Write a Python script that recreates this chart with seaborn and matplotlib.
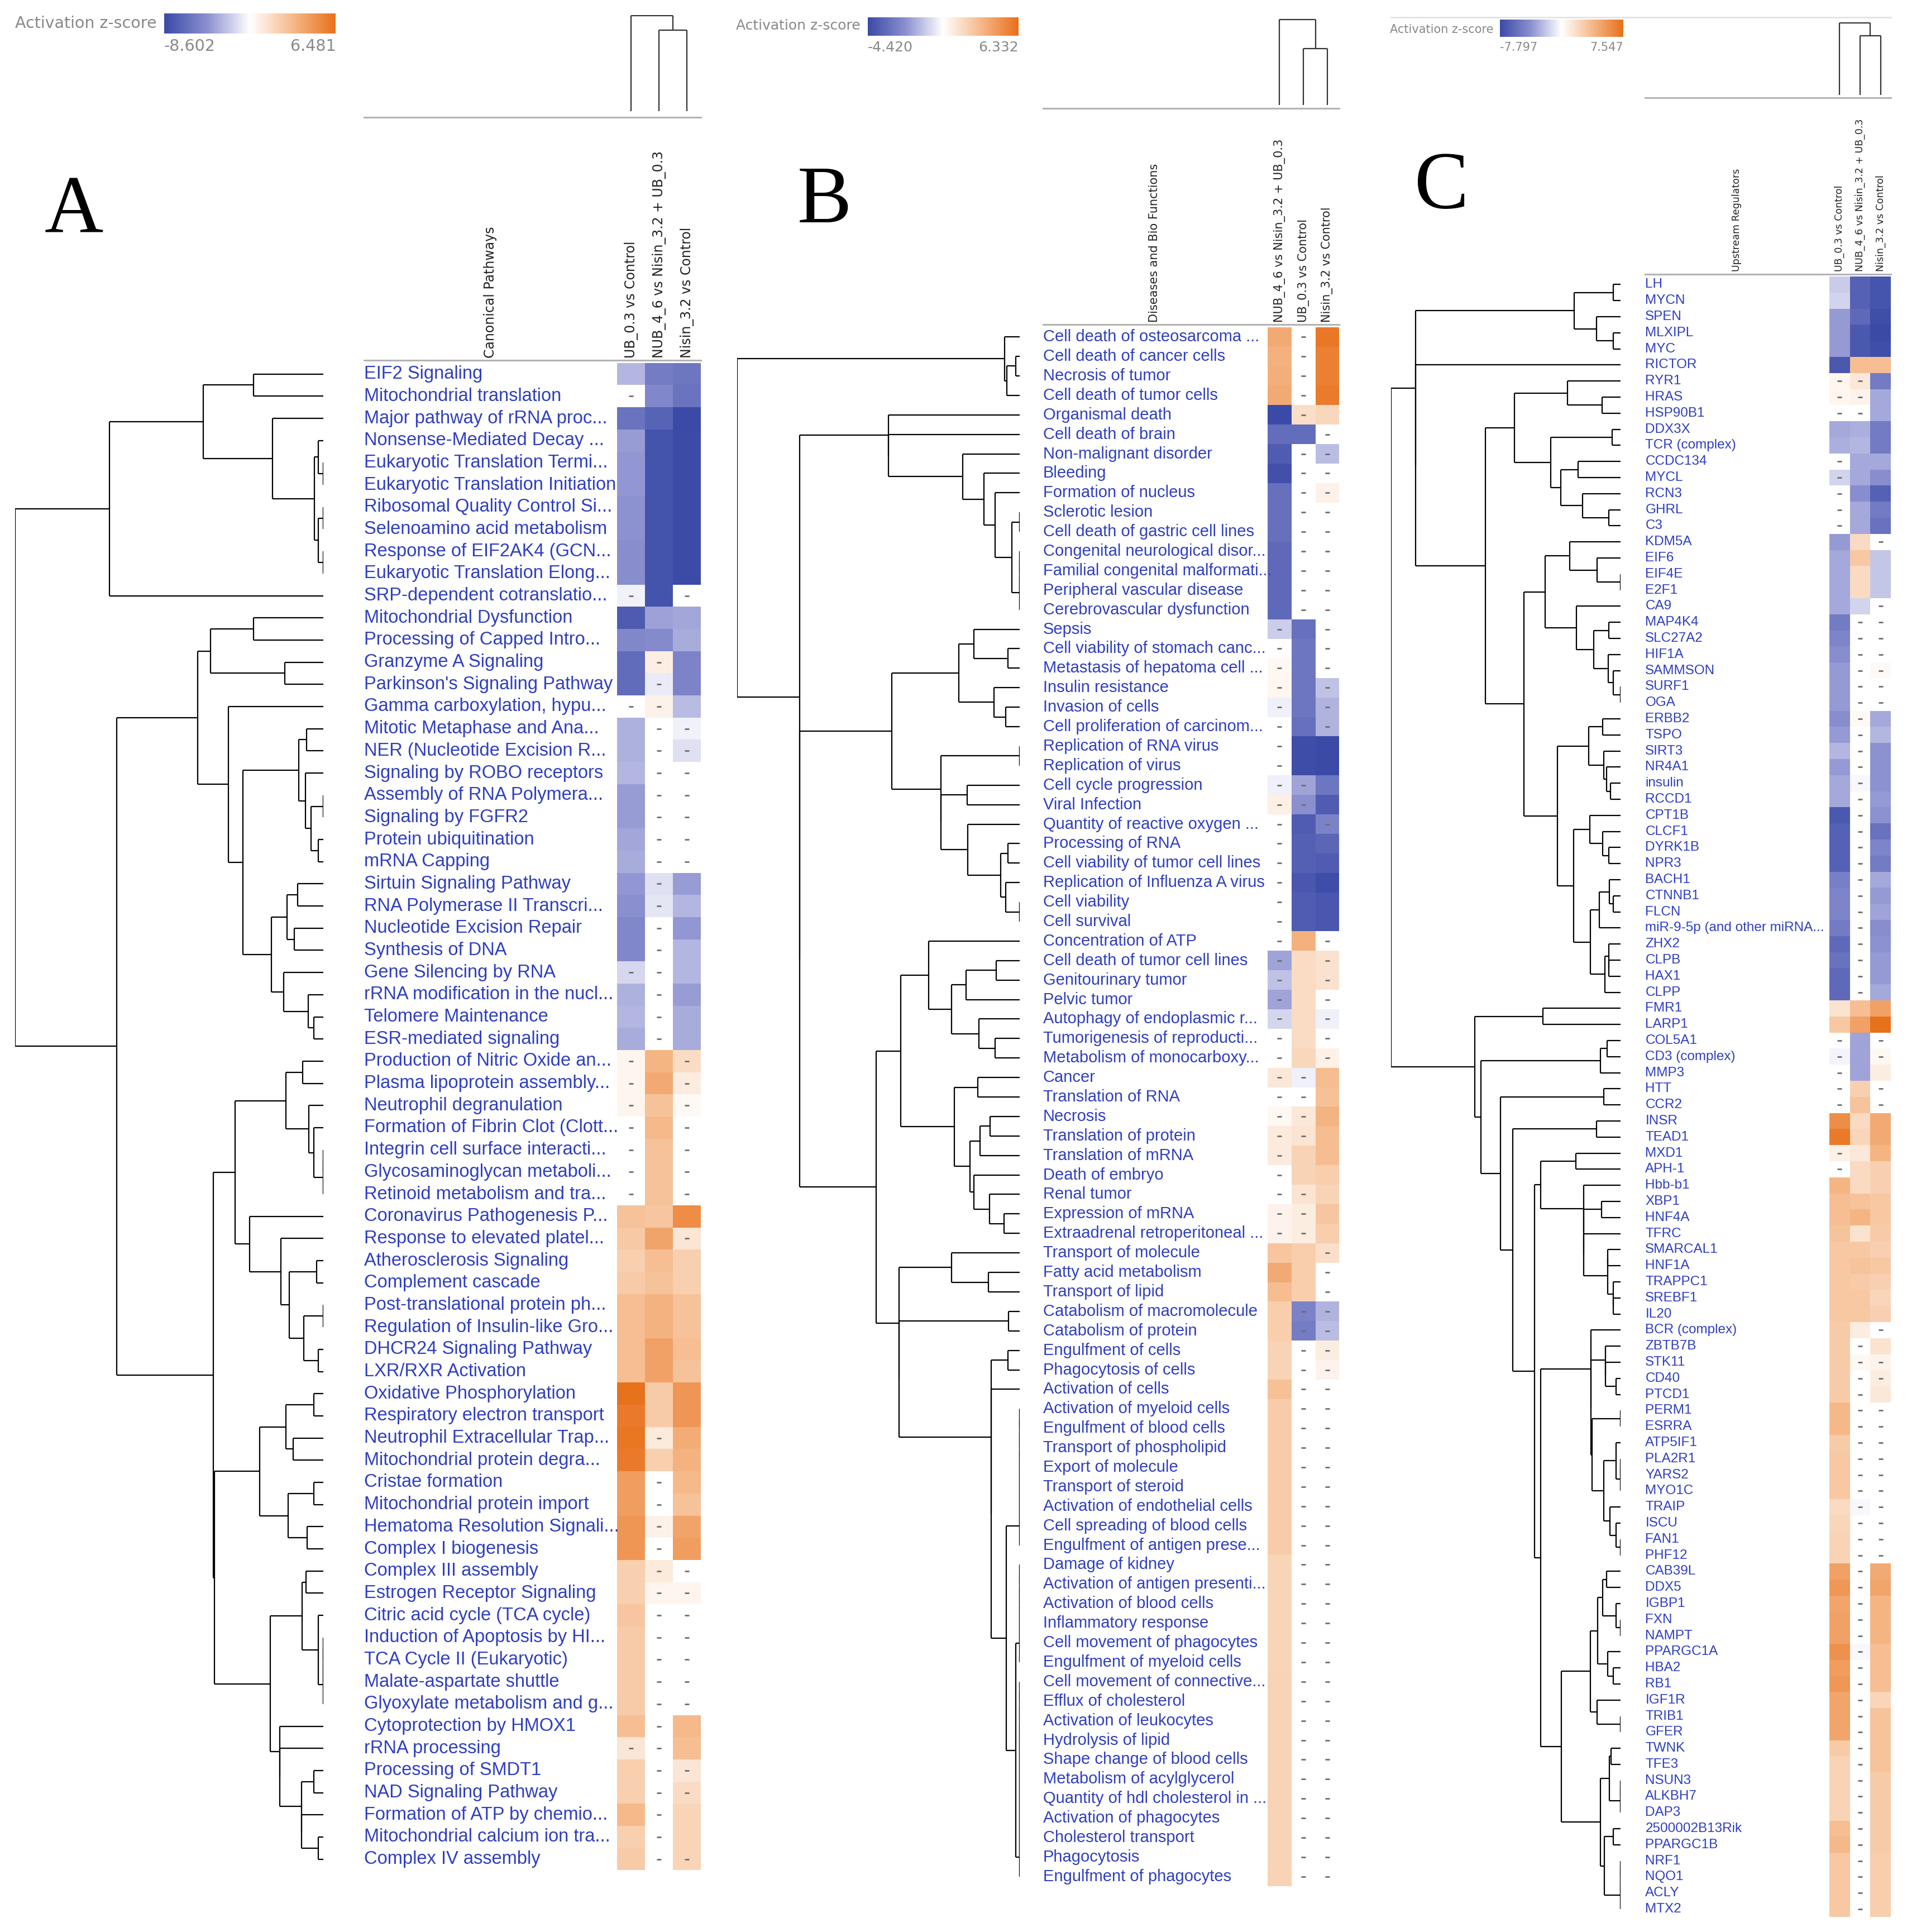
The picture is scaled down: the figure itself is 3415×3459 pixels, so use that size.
import numpy as np
import pandas as pd
import seaborn as sns
import matplotlib.pyplot as plt
from matplotlib.colors import LinearSegmentedColormap, TwoSlopeNorm
from matplotlib.cm import ScalarMappable
from matplotlib.lines import Line2D

nan = np.nan

# ---------------- panel A : canonical pathways ----------------
a_cols = ["UB_0.3 vs Control", "NUB_4_6 vs Nisin_3.2 + UB_0.3", "Nisin_3.2 vs Control"]
a_range = (-8.602, 6.481)
a_labels = [
    "EIF2 Signaling", "Mitochondrial translation", "Major pathway of rRNA proc...",
    "Nonsense-Mediated Decay ...", "Eukaryotic Translation Termi...", "Eukaryotic Translation Initiation",
    "Ribosomal Quality Control Si...", "Selenoamino acid metabolism", "Response of EIF2AK4 (GCN...",
    "Eukaryotic Translation Elong...", "SRP-dependent cotranslatio...", "Mitochondrial Dysfunction",
    "Processing of Capped Intro...", "Granzyme A Signaling", "Parkinson's Signaling Pathway",
    "Gamma carboxylation, hypu...", "Mitotic Metaphase and Ana...", "NER (Nucleotide Excision R...",
    "Signaling by ROBO receptors", "Assembly of RNA Polymera...", "Signaling by FGFR2",
    "Protein ubiquitination", "mRNA Capping", "Sirtuin Signaling Pathway",
    "RNA Polymerase II Transcri...", "Nucleotide Excision Repair", "Synthesis of DNA",
    "Gene Silencing by RNA", "rRNA modification in the nucl...", "Telomere Maintenance",
    "ESR-mediated signaling", "Production of Nitric Oxide an...", "Plasma lipoprotein assembly...",
    "Neutrophil degranulation", "Formation of Fibrin Clot (Clott...", "Integrin cell surface interacti...",
    "Glycosaminoglycan metaboli...", "Retinoid metabolism and tra...", "Coronavirus Pathogenesis P...",
    "Response to elevated platel...", "Atherosclerosis Signaling", "Complement cascade",
    "Post-translational protein ph...", "Regulation of Insulin-like Gro...", "DHCR24 Signaling Pathway",
    "LXR/RXR Activation", "Oxidative Phosphorylation", "Respiratory electron transport",
    "Neutrophil Extracellular Trap...", "Mitochondrial protein degra...", "Cristae formation",
    "Mitochondrial protein import", "Hematoma Resolution Signali...", "Complex I biogenesis",
    "Complex III assembly", "Estrogen Receptor Signaling", "Citric acid cycle (TCA cycle)",
    "Induction of Apoptosis by HI...", "TCA Cycle II (Eukaryotic)", "Malate-aspartate shuttle",
    "Glyoxylate metabolism and g...", "Cytoprotection by HMOX1", "rRNA processing",
    "Processing of SMDT1", "NAD Signaling Pathway", "Formation of ATP by chemio...",
    "Mitochondrial calcium ion tra...", "Complex IV assembly",
]
a_values = [
    (-2.8, -5.5, -5.8), (nan, -4.8, -6.0), (-6.0, -7.0, -8.6), (-3.8, -8.0, -8.5),
    (-4.0, -8.0, -8.5), (-4.0, -8.0, -8.5), (-4.2, -8.0, -8.5), (-4.2, -8.0, -8.5),
    (-4.4, -8.0, -8.5), (-4.4, -8.0, -8.5), (-0.5, -8.0, nan), (-7.5, -3.6, -3.4),
    (-4.8, -4.6, -3.2), (-6.5, 0.8, -5.0), (-6.5, -0.8, -5.0), (nan, 0.6, -2.6),
    (-3.0, nan, -0.5), (-3.0, nan, -1.2), (-2.8, nan, nan), (-3.8, nan, nan),
    (-3.8, nan, nan), (-3.4, nan, nan), (-3.2, nan, nan), (-4.0, -1.2, -3.8),
    (-4.3, -1.0, -2.8), (-4.8, nan, -4.0), (-4.8, nan, -2.8), (-1.5, nan, -2.8),
    (-3.0, nan, -3.8), (-2.8, nan, -3.2), (-3.2, nan, -3.2), (0.5, 3.4, 1.6),
    (0.5, 3.9, 0.9), (0.5, 2.8, 0.3), (nan, 3.2, nan), (nan, 2.8, nan),
    (nan, 2.8, nan), (nan, 2.8, nan), (2.8, 2.6, 5.2), (2.5, 4.2, 1.2),
    (2.2, 3.0, 2.2), (2.4, 2.8, 2.2), (3.0, 3.5, 2.8), (3.0, 3.5, 2.8),
    (3.0, 4.3, 3.0), (3.0, 4.3, 2.8), (6.4, 2.4, 4.8), (6.0, 2.4, 4.8),
    (6.2, 1.0, 3.8), (6.0, 2.2, 3.5), (4.5, nan, 3.2), (4.5, nan, 2.8),
    (4.8, 0.6, 4.2), (4.8, nan, 4.5), (2.2, 1.0, nan), (2.2, 0.5, 0.5),
    (2.6, nan, nan), (2.4, nan, nan), (2.4, nan, nan), (2.4, nan, nan),
    (2.4, nan, nan), (3.0, nan, 3.2), (1.2, nan, 3.0), (2.2, nan, 1.2),
    (2.2, nan, 1.6), (3.2, nan, 2.0), (2.2, nan, 2.0), (2.4, nan, 2.0),
]
# '*' marks a non-significant cell (grey dash)
a_dots = [
    "...", "*..", "...", "...", "...", "...", "...", "...", "...", "...", "*.*", "...",
    "...", ".*.", ".*.", "**.", ".**", ".**", ".**", ".**", ".**", ".**", ".**", ".*.",
    ".*.", ".*.", ".*.", "**.", ".*.", ".*.", ".*.", "*.*", "*.*", "*.*", "*.*", "*.*",
    "*.*", "*.*", "...", "..*", "...", "...", "...", "...", "...", "...", "...", "...",
    ".*.", "...", ".*.", ".*.", ".*.", ".*.", ".**", ".**", ".**", ".**", ".**", ".**",
    ".**", ".*.", "**.", ".**", ".**", ".*.", ".*.", ".**",
]

# ---------------- panel B : diseases and bio functions ----------------
b_cols = ["NUB_4_6 vs Nisin_3.2 + UB_0.3", "UB_0.3 vs Control", "Nisin_3.2 vs Control"]
b_range = (-4.420, 6.332)
b_labels = [
    "Cell death of osteosarcoma ...", "Cell death of cancer cells", "Necrosis of tumor",
    "Cell death of tumor cells", "Organismal death", "Cell death of brain",
    "Non-malignant disorder", "Bleeding", "Formation of nucleus", "Sclerotic lesion",
    "Cell death of gastric cell lines", "Congenital neurological disor...",
    "Familial congenital malformati...", "Peripheral vascular disease",
    "Cerebrovascular dysfunction", "Sepsis", "Cell viability of stomach canc...",
    "Metastasis of hepatoma cell ...", "Insulin resistance", "Invasion of cells",
    "Cell proliferation of carcinom...", "Replication of RNA virus", "Replication of virus",
    "Cell cycle progression", "Viral Infection", "Quantity of reactive oxygen ...",
    "Processing of RNA", "Cell viability of tumor cell lines", "Replication of Influenza A virus",
    "Cell viability", "Cell survival", "Concentration of ATP", "Cell death of tumor cell lines",
    "Genitourinary tumor", "Pelvic tumor", "Autophagy of endoplasmic r...",
    "Tumorigenesis of reproducti...", "Metabolism of monocarboxy...", "Cancer",
    "Translation of RNA", "Necrosis", "Translation of protein", "Translation of mRNA",
    "Death of embryo", "Renal tumor", "Expression of mRNA", "Extraadrenal retroperitoneal ...",
    "Transport of molecule", "Fatty acid metabolism", "Transport of lipid",
    "Catabolism of macromolecule", "Catabolism of protein", "Engulfment of cells",
    "Phagocytosis of cells", "Activation of cells", "Activation of myeloid cells",
    "Engulfment of blood cells", "Transport of phospholipid", "Export of molecule",
    "Transport of steroid", "Activation of endothelial cells", "Cell spreading of blood cells",
    "Engulfment of antigen prese...", "Damage of kidney", "Activation of antigen presenti...",
    "Activation of blood cells", "Inflammatory response", "Cell movement of phagocytes",
    "Engulfment of myeloid cells", "Cell movement of connective...", "Efflux of cholesterol",
    "Activation of leukocytes", "Hydrolysis of lipid", "Shape change of blood cells",
    "Metabolism of acylglycerol", "Quantity of hdl cholesterol in ...", "Activation of phagocytes",
    "Cholesterol transport", "Phagocytosis", "Engulfment of phagocytes",
]
b_values = [
    (3.8, nan, 6.0), (3.5, nan, 5.6), (3.6, nan, 5.6), (3.8, nan, 5.8),
    (-4.4, 1.5, 1.8), (-3.3, -3.3, nan), (-3.8, nan, -1.3), (-4.2, nan, nan),
    (-3.2, nan, 0.6), (-3.2, nan, nan), (-3.2, nan, nan), (-3.4, nan, nan),
    (-3.4, nan, nan), (-3.4, nan, nan), (-3.4, nan, nan), (-1.0, -3.2, nan),
    (nan, -3.0, nan), (0.3, -3.0, nan), (0.4, -3.0, -1.2), (-0.3, -3.0, -1.5),
    (nan, -3.2, -1.5), (nan, -4.3, -4.4), (nan, -4.3, -4.4), (-0.3, -1.8, -3.0),
    (0.7, -2.2, -3.8), (nan, -3.8, -2.6), (nan, -3.7, -3.5), (nan, -3.7, -3.8),
    (nan, -4.0, -4.3), (nan, -3.8, -4.0), (nan, -3.8, -4.0), (nan, 3.5, nan),
    (-1.8, 1.6, 1.3), (-1.2, 1.6, 1.3), (-1.8, 1.6, nan), (-0.8, 1.6, -0.3),
    (nan, 1.6, nan), (nan, 1.8, 0.6), (1.0, -0.3, 3.0), (nan, nan, 2.8),
    (0.3, 1.0, 3.4), (0.9, 1.2, 3.0), (0.9, 2.0, 3.0), (nan, 2.0, 2.2),
    (nan, 1.2, 2.0), (0.5, 0.8, 2.6), (0.5, 0.8, 2.2), (2.6, 2.2, 1.5),
    (3.8, 2.2, nan), (3.0, 2.2, nan), (2.2, -2.6, -1.5), (2.2, -2.8, -1.3),
    (2.0, nan, 0.8), (2.0, nan, 0.5), (2.8, nan, nan), (2.3, nan, nan),
    (2.3, nan, nan), (2.3, nan, nan), (2.3, nan, nan), (2.3, nan, nan),
    (2.3, nan, nan), (2.3, nan, nan), (2.3, nan, nan), (1.9, nan, nan),
    (1.9, nan, nan), (1.9, nan, nan), (1.9, nan, nan), (1.9, nan, nan),
    (1.9, nan, nan), (2.0, nan, nan), (2.0, nan, nan), (2.0, nan, nan),
    (2.0, nan, nan), (2.0, nan, nan), (2.0, nan, nan), (2.0, nan, nan),
    (2.0, nan, nan), (2.0, nan, nan), (2.0, nan, nan), (2.0, nan, nan),
]
b_dots = [
    ".*.", ".*.", ".*.", ".*.", ".*.", "..*", ".**", ".**", ".**", ".**", ".**", ".**",
    ".**", ".**", ".**", "*.*", "*.*", "*.*", "*.*", "*.*", "*.*", "*..", "*..", "**.",
    "**.", "*.*", "*..", "*..", "*..", "*..", "*..", "*.*", "*.*", "*.*", "*.*", "*.*",
    "*.*", "*.*", "**.", "**.", "**.", "**.", "*..", "*..", "**.", "**.", "**.", "..*",
    "..*", "..*", ".**", ".**", ".**", ".**", ".**", ".**", ".**", ".**", ".**", ".**",
    ".**", ".**", ".**", ".**", ".**", ".**", ".**", ".**", ".**", ".**", ".**", ".**",
    ".**", ".**", ".**", ".**", ".**", ".**", ".**", ".**",
]

# ---------------- panel C : upstream regulators ----------------
c_cols = ["UB_0.3 vs Control", "NUB_4_6 vs Nisin_3.2 + UB_0.3", "Nisin_3.2 vs Control"]
c_range = (-7.797, 7.547)
c_labels = [
    "LH", "MYCN", "SPEN", "MLXIPL", "MYC", "RICTOR", "RYR1", "HRAS", "HSP90B1", "DDX3X",
    "TCR (complex)", "CCDC134", "MYCL", "RCN3", "GHRL", "C3", "KDM5A", "EIF6", "EIF4E", "E2F1",
    "CA9", "MAP4K4", "SLC27A2", "HIF1A", "SAMMSON", "SURF1", "OGA", "ERBB2", "TSPO", "SIRT3",
    "NR4A1", "insulin", "RCCD1", "CPT1B", "CLCF1", "DYRK1B", "NPR3", "BACH1", "CTNNB1", "FLCN",
    "miR-9-5p (and other miRNA...", "ZHX2", "CLPB", "HAX1", "CLPP", "FMR1", "LARP1", "COL5A1",
    "CD3 (complex)", "MMP3", "HTT", "CCR2", "INSR", "TEAD1", "MXD1", "APH-1", "Hbb-b1", "XBP1",
    "HNF4A", "TFRC", "SMARCAL1", "HNF1A", "TRAPPC1", "SREBF1", "IL20", "BCR (complex)", "ZBTB7B",
    "STK11", "CD40", "PTCD1", "PERM1", "ESRRA", "ATP5IF1", "PLA2R1", "YARS2", "MYO1C", "TRAIP",
    "ISCU", "FAN1", "PHF12", "CAB39L", "DDX5", "IGBP1", "FXN", "NAMPT", "PPARGC1A", "HBA2", "RB1",
    "IGF1R", "TRIB1", "GFER", "TWNK", "TFE3", "NSUN3", "ALKBH7", "DAP3", "2500002B13Rik",
    "PPARGC1B", "NRF1", "NQO1", "ACLY", "MTX2",
]
c_values = [
    (-1.8, -6.5, -7.2), (-1.5, -6.5, -7.2), (-3.5, -6.0, -7.5), (-3.5, -7.0, -7.8),
    (-3.5, -7.0, -7.5), (-7.0, 3.5, 3.5), (0.5, 1.2, -5.0), (0.5, 0.6, -3.0),
    (nan, nan, -3.0), (-3.0, -2.8, -5.0), (-2.8, -2.5, -5.0), (nan, -3.0, -3.0),
    (-1.5, -3.0, -4.0), (nan, -4.0, -6.5), (nan, -3.0, -5.0), (nan, -3.0, -5.5),
    (-3.5, 2.0, nan), (-3.0, 3.0, -2.0), (-3.0, 2.0, -2.0), (-3.0, 2.0, -2.0),
    (-3.0, -1.5, nan), (-5.0, nan, nan), (-4.5, nan, nan), (-4.0, nan, nan),
    (-3.5, nan, 0.3), (-3.5, nan, nan), (-3.5, nan, nan), (-4.0, 0.3, -3.0),
    (-3.5, nan, -2.5), (-2.5, nan, -3.8), (-3.5, nan, -3.8), (-3.0, -0.3, -3.8),
    (-3.0, nan, -3.5), (-7.0, nan, -3.8), (-6.5, nan, -5.5), (-6.5, nan, -4.5),
    (-6.5, nan, -5.0), (-4.8, nan, -3.0), (-4.5, nan, -3.5), (-4.5, nan, -3.2),
    (-5.0, nan, -4.0), (-6.0, nan, -3.8), (-5.5, nan, -3.5), (-6.0, nan, -3.5),
    (-6.0, nan, -3.0), (1.5, 3.5, 5.0), (3.0, 5.0, 7.5), (nan, -3.2, nan),
    (-0.4, -3.2, 0.4), (nan, -3.2, 1.0), (nan, 2.5, nan), (nan, 3.2, nan),
    (6.0, 2.0, 4.5), (7.0, 2.2, 4.5), (0.8, 1.2, 4.0), (nan, 2.0, 2.5),
    (4.0, 2.0, 2.5), (3.5, 3.2, 3.0), (3.5, 4.0, 3.0), (3.2, 1.5, 2.8),
    (3.0, 3.0, 2.5), (3.0, 3.2, 3.0), (3.0, 2.8, 2.5), (3.0, 3.0, 2.2),
    (3.0, 3.0, 2.5), (2.8, 1.0, nan), (2.8, nan, 1.5), (2.8, 0.4, 0.6),
    (2.8, nan, 1.0), (2.8, nan, 1.2), (3.8, nan, nan), (3.8, nan, nan),
    (2.8, nan, nan), (3.0, nan, nan), (3.0, nan, nan), (3.0, nan, nan),
    (2.0, -0.3, nan), (2.2, nan, nan), (2.4, nan, nan), (2.4, nan, nan),
    (5.0, nan, 4.5), (5.5, nan, 4.8), (4.8, nan, 4.0), (5.0, nan, 4.0),
    (5.0, nan, 4.0), (5.8, -0.3, 3.5), (5.2, nan, 3.5), (5.5, nan, 3.5),
    (4.8, nan, 2.2), (4.8, nan, 3.2), (4.8, nan, 3.2), (2.8, nan, 3.2),
    (2.4, nan, 3.2), (2.4, nan, 2.8), (2.4, nan, 2.8), (2.4, nan, 2.8),
    (3.5, nan, 2.8), (3.8, nan, 2.8), (3.0, nan, 2.6), (3.0, nan, 2.6),
    (3.0, nan, 2.6), (3.0, nan, 2.6),
]
c_dots = [
    "...", "...", "...", "...", "...", "...", "**.", "**.", "**.", "...", "...", "*..",
    "*..", "*..", "*..", "*..", "..*", "...", "...", "...", "..*", ".**", ".**", ".**",
    ".**", ".**", ".**", ".*.", ".*.", ".*.", ".*.", ".*.", ".*.", ".*.", ".*.", ".*.",
    ".*.", ".*.", ".*.", ".*.", ".*.", ".*.", ".*.", ".*.", ".*.", "...", "...", "*.*",
    "*.*", "*..", "*.*", "*.*", "...", "...", "*..", "*..", "...", "...", "...", "...",
    "...", "...", "...", "...", "...", "..*", ".*.", ".**", ".**", ".*.", ".**", ".**",
    ".**", ".**", ".**", ".**", ".**", ".**", ".**", ".**", ".*.", ".*.", ".*.", ".*.",
    ".*.", ".*.", ".*.", ".*.", ".*.", ".*.", ".*.", ".*.", ".*.", ".*.", ".*.", ".*.",
    ".*.", ".*.", ".*.", ".*.", ".*.", ".*.",
]

for lab, val, dot in [(a_labels, a_values, a_dots), (b_labels, b_values, b_dots),
                      (c_labels, c_values, c_dots)]:
    assert len(lab) == len(val) == len(dot), (len(lab), len(val), len(dot))

plt.rcParams['font.family'] = ['Liberation Sans', 'DejaVu Sans']

cmap = LinearSegmentedColormap.from_list(
    'ipa', [(0, '#3a4aa6'), (0.25, '#8a8fcf'), (0.5, '#ffffff'), (0.75, '#f5b98a'), (1, '#e8701a')])

DW, DH = 1545, 1565          # layout grid (scaled from the reference)
PT = 3415 / DW * 0.72        # grid unit -> points


def frac(x0, y0, x1, y1):
    return [x0 / DW, 1 - y1 / DH, (x1 - x0) / DW, (y1 - y0) / DH]


def contiguous_tree(mat):
    # average-linkage clustering that only merges neighbours, so the leaf order is kept
    mat = np.nan_to_num(np.asarray(mat, dtype=float))
    dist = np.sqrt(((mat[:, None, :] - mat[None, :, :]) ** 2).sum(-1))
    clusters = [([i], i + 0.5, 0.0) for i in range(len(mat))]
    segs = []
    while len(clusters) > 1:
        scores = [dist[np.ix_(clusters[k][0], clusters[k + 1][0])].mean()
                  for k in range(len(clusters) - 1)]
        k = int(np.argmin(scores))
        (ma, pa, ha), (mb, pb, hb) = clusters[k], clusters[k + 1]
        h = max(scores[k], ha, hb)
        segs += [((ha, h), (pa, pa)), ((hb, h), (pb, pb)), ((h, h), (pa, pb))]
        clusters[k:k + 2] = [(ma + mb, (pa + pb) / 2, h)]
    return segs, clusters[0][2]


panels = [
    dict(labels=a_labels, values=a_values, dots=a_dots, cols=a_cols, rng=a_range,
         title='Canonical Pathways', letter='A', letter_xy=(60, 172),
         hm=(500, 294, 568, 1515), rows=(12, 262), coldend=(12, 90), header=(295, 95),
         head_x=397, cb=(133, 11, 272, 27), cb_text=(127, 19),
         fs_row=23.5, fs_head=17, fs_leg=20.5),
    dict(labels=b_labels, values=b_values, dots=b_dots, cols=b_cols, rng=b_range,
         title='Diseases and Bio Functions', letter='B', letter_xy=(668, 164),
         hm=(1027, 265, 1085, 1528), rows=(597, 826), coldend=(15, 85), header=(845, 88),
         head_x=935, cb=(703, 14, 825, 29), cb_text=(697, 21),
         fs_row=21, fs_head=15, fs_leg=18),
    dict(labels=c_labels, values=c_values, dots=c_dots, cols=c_cols, rng=c_range,
         title='Upstream Regulators', letter='C', letter_xy=(1168, 153),
         hm=(1482, 224, 1532, 1553), rows=(1127, 1313), coldend=(18, 77), header=(1333, 79),
         head_x=1407, cb=(1215, 16, 1315, 30), cb_text=(1210, 24),
         fs_row=17.5, fs_head=12.5, fs_leg=15),
]

fig = plt.figure(figsize=(34.15, 34.59), dpi=100)

for p in panels:
    lo, hi = p['rng']
    norm = TwoSlopeNorm(vmin=lo, vcenter=0, vmax=hi)
    df = pd.DataFrame(p['values'], index=p['labels'], columns=p['cols'])
    n = len(df)
    hx0, hy0, hx1, hy1 = p['hm']
    lx, ly = p['header']

    # heatmap
    ax = fig.add_axes(frac(hx0, hy0, hx1, hy1))
    sns.heatmap(df, ax=ax, cmap=cmap, norm=norm, cbar=False,
                xticklabels=True, yticklabels=True)
    for i, flags in enumerate(p['dots']):
        for j, f in enumerate(flags):
            if f == '*':
                ax.scatter(j + 0.5, i + 0.5, marker='_', s=p['fs_row'] * 1.6,
                           linewidths=2.0, color='#6f6f6f', zorder=3)
    ax.set_yticks(np.arange(n) + 0.5)
    ax.set_yticklabels(p['labels'], rotation=0, ha='left', fontsize=p['fs_row'],
                       color='#2f3fbf')
    ax.tick_params(axis='y', length=0, pad=(hx0 - lx) * PT)
    ax.xaxis.set_ticks_position('top')
    ax.set_xticks(np.arange(3) + 0.5)
    ax.set_xticklabels(p['cols'], rotation=90, ha='center', va='bottom',
                       fontsize=p['fs_head'], family='DejaVu Sans', color='#222222')
    ax.tick_params(axis='x', length=0, pad=4 * PT)
    ax.set_xlabel('')
    ax.set_ylabel('')

    # header frame (grey rules above and below the column labels)
    hax = fig.add_axes(frac(lx, ly, hx1, hy0 - 2))
    hax.patch.set_visible(False)
    hax.set_xticks([])
    hax.set_yticks([])
    for side in ['left', 'right']:
        hax.spines[side].set_visible(False)
    for side in ['top', 'bottom']:
        hax.spines[side].set_color('#b3b3b3')
        hax.spines[side].set_linewidth(2.2)
    fig.text(p['head_x'] / DW, 1 - (hy0 - 4) / DH, p['title'], rotation=90,
             ha='center', va='bottom', fontsize=p['fs_head'], family='DejaVu Sans',
             color='#222222')

    # row dendrogram
    segs, top = contiguous_tree(df.values)
    dax = fig.add_axes(frac(p['rows'][0], hy0, p['rows'][1], hy1))
    for xs, ys in segs:
        dax.plot(xs, ys, color='black', lw=1.6, solid_capstyle='butt')
    dax.set_xlim(top, 0)
    dax.set_ylim(n, 0)
    dax.axis('off')

    # column dendrogram
    segs, top = contiguous_tree(df.values.T)
    cax_d = fig.add_axes(frac(hx0, p['coldend'][0], hx1, p['coldend'][1]))
    for hs, ps in segs:
        cax_d.plot(ps, hs, color='#333333', lw=1.6, solid_capstyle='butt')
    cax_d.set_xlim(0, 3)
    cax_d.set_ylim(0, top * 1.01)
    cax_d.axis('off')

    # colour legend
    cx0, cy0, cx1, cy1 = p['cb']
    cax = fig.add_axes(frac(cx0, cy0, cx1, cy1))
    cb = fig.colorbar(ScalarMappable(norm=norm, cmap=cmap), cax=cax, orientation='horizontal')
    cb.outline.set_visible(False)
    cb.set_ticks([lo, hi])
    cb.set_ticklabels([f'{lo:.3f}', f'{hi:.3f}'])
    cax.tick_params(length=0, pad=4 * PT, labelsize=p['fs_leg'], labelcolor='#888888')
    for t in cax.get_xticklabels():
        t.set_family('DejaVu Sans')
    ticks = cax.get_xticklabels()
    ticks[0].set_ha('left')
    ticks[-1].set_ha('right')
    fig.text(p['cb_text'][0] / DW, 1 - p['cb_text'][1] / DH, 'Activation z-score',
             ha='right', va='center', fontsize=p['fs_leg'], family='DejaVu Sans',
             color='#888888')

    # panel letter
    fig.text(p['letter_xy'][0] / DW, 1 - p['letter_xy'][1] / DH, p['letter'],
             ha='center', va='center', fontsize=105, family='Liberation Serif')

# faint rule on top of panel C
fig.add_artist(Line2D([1127 / DW, 1532 / DW], [1 - 14 / DH, 1 - 14 / DH],
                      transform=fig.transFigure, color='#e3e3e3', lw=2))

fig.savefig('out.png', dpi=100, facecolor='white')
